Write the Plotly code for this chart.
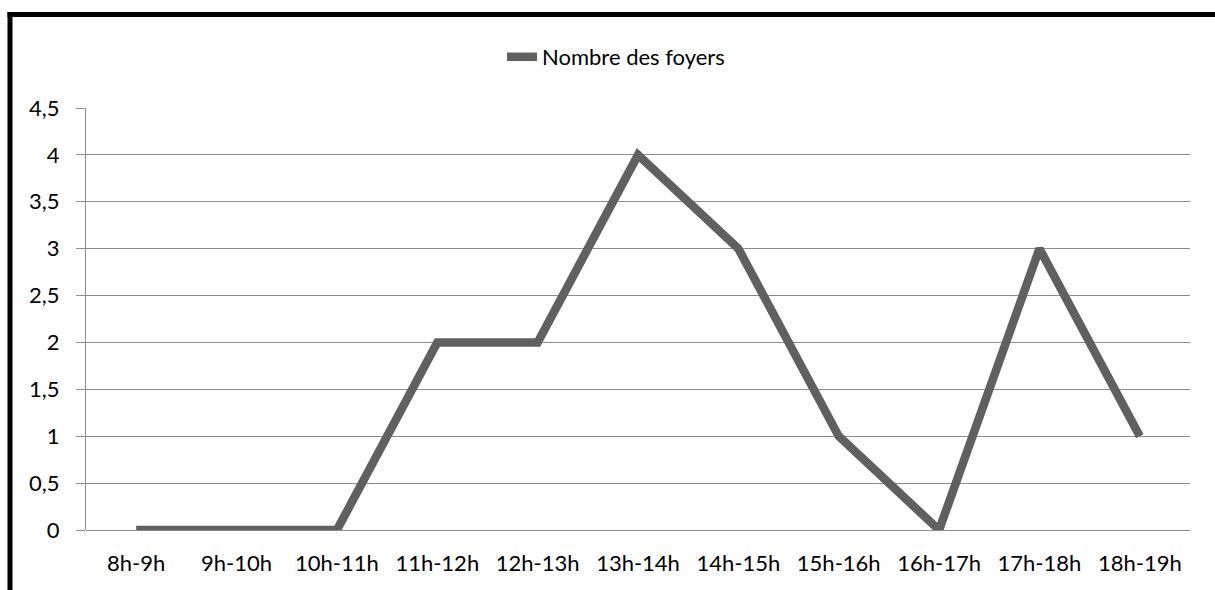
import plotly.graph_objects as go

# Hourly slots and counts per slot
creneaux = ["8h-9h", "9h-10h", "10h-11h", "11h-12h", "12h-13h", "13h-14h",
            "14h-15h", "15h-16h", "16h-17h", "17h-18h", "18h-19h"]
nombre_foyers = [0, 0, 0, 2, 2, 4, 3, 1, 0, 3, 1]

y_ticks = [0, 0.5, 1, 1.5, 2, 2.5, 3, 3.5, 4, 4.5]
y_tick_labels = ["0", "0,5", "1", "1,5", "2", "2,5", "3", "3,5", "4", "4,5"]

W, H = 1215, 590
L, R, T, B = 86, 25, 108, 60
pw, ph = W - L - R, H - T - B

FONT = "Lato, 'Open Sans', sans-serif"
FS = 22

fig = go.Figure()
fig.add_trace(go.Scatter(
    x=creneaux, y=nombre_foyers, mode="lines", name="Nombre des foyers",
    line=dict(color="#606060", width=8.5),
))

# frame lines along the top and left of the chart
def px_x(px):
    return (px - L) / pw

def px_y(py):
    return (H - B - py) / ph

fig.add_shape(type="line", xref="paper", yref="paper",
              x0=px_x(7.5), x1=px_x(1220), y0=px_y(14.5), y1=px_y(14.5),
              line=dict(color="black", width=5))
fig.add_shape(type="line", xref="paper", yref="paper",
              x0=px_x(10), x1=px_x(10), y0=px_y(12), y1=px_y(600),
              line=dict(color="black", width=5))

fig.update_layout(
    width=W, height=H,
    margin=dict(l=L, r=R, t=T, b=B),
    paper_bgcolor="white", plot_bgcolor="white",
    font=dict(family=FONT, size=FS, color="black"),
    showlegend=True,
    legend=dict(orientation="h", x=px_x(502), xanchor="left",
                y=px_y(57), yanchor="middle",
                font=dict(family=FONT, size=FS, color="black")),
    xaxis=dict(
        type="category", showgrid=False, showline=False, zeroline=False,
        ticks="", tickfont=dict(size=FS), range=[-0.5, 10.5],
        ticklabelstandoff=18,
    ),
    yaxis=dict(
        range=[0, 4.5], tickvals=y_ticks, ticktext=y_tick_labels,
        showgrid=True, gridcolor="#8c8c8c", gridwidth=1,
        zeroline=True, zerolinecolor="#8c8c8c", zerolinewidth=1,
        showline=True, linecolor="#8c8c8c", linewidth=1,
        ticks="outside", ticklen=9, tickcolor="#8c8c8c",
        ticklabelstandoff=12, tickfont=dict(size=FS),
    ),
)

fig.write_html("out.html")
